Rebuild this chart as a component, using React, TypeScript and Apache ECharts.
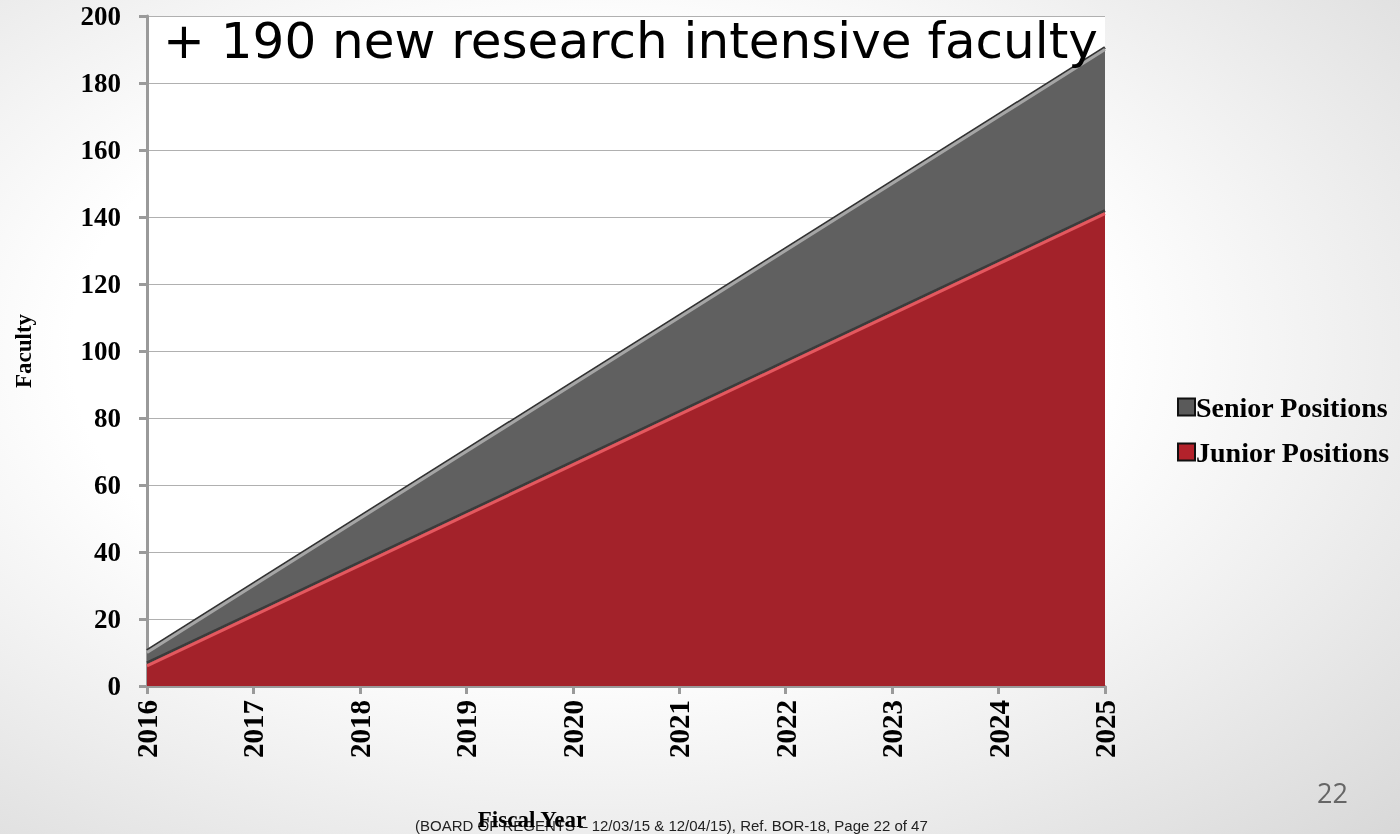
import React, { useEffect, useRef } from "react";
import * as echarts from "echarts";

const years = ["2016", "2017", "2018", "2019", "2020", "2021", "2022", "2023", "2024", "2025"];
const juniorPositions = [6, 21, 36, 51, 66, 81, 96, 111, 126, 141];
const seniorPositions = [4, 9, 14, 19, 24, 29, 34, 39, 44, 49];
const seriesNames = ["Senior Positions", "Junior Positions"];
const titleText = "+ 190 new research intensive faculty";
const footerText = "(BOARD OF REGENTS \u2013 12/03/15 & 12/04/15), Ref. BOR-18, Page 22 of 47";

const SERIF = "'Liberation Serif', 'Times New Roman', serif";

export default function App() {
  const ref = useRef<HTMLDivElement>(null);
  useEffect(() => {
    if (!ref.current) return;
    const chart = echarts.init(ref.current, null, { renderer: "svg" });
    chart.setOption({
      animation: false,
      backgroundColor: "transparent",
      grid: {
        left: 147,
        right: 295,
        top: 16,
        bottom: 148,
        show: true,
        backgroundColor: "#ffffff",
        borderWidth: 0,
      },
      legend: {
        orient: "vertical",
        left: 1172,
        top: 388,
        itemGap: 17,
        itemWidth: 17,
        itemHeight: 17,
        icon: "rect",
        textStyle: { fontFamily: SERIF, fontWeight: "bold", fontSize: 28, color: "#000", padding: [0, 0, 0, -4] },
        data: [
          { name: seriesNames[0], itemStyle: { color: "#5a5a5a", borderColor: "#111", borderWidth: 2 } },
          { name: seriesNames[1], itemStyle: { color: "#b3222b", borderColor: "#111", borderWidth: 2 } },
        ],
      },
      xAxis: {
        type: "category",
        data: years,
        boundaryGap: false,
        axisLine: { lineStyle: { color: "#9a9a9a", width: 3 } },
        axisTick: { show: true, length: 8, lineStyle: { color: "#9a9a9a", width: 3 } },
        axisLabel: {
          rotate: 90,
          margin: 14,
          fontFamily: SERIF,
          fontWeight: "bold",
          fontSize: 29,
          color: "#000",
        },
        splitLine: { show: false },
      },
      yAxis: {
        type: "value",
        min: 0,
        max: 200,
        interval: 20,
        name: "Faculty",
        nameLocation: "middle",
        nameRotate: 90,
        nameGap: 112,
        nameTextStyle: { fontFamily: SERIF, fontWeight: "bold", fontSize: 23, color: "#000" },
        axisLine: { show: true, lineStyle: { color: "#9a9a9a", width: 3 } },
        axisTick: { show: true, length: 8, lineStyle: { color: "#9a9a9a", width: 3 } },
        axisLabel: {
          margin: 26,
          fontFamily: SERIF,
          fontWeight: "bold",
          fontSize: 27,
          color: "#000",
        },
        splitLine: { show: true, lineStyle: { color: "#b0b0b0", width: 1 } },
      },
      series: [
        {
          name: seriesNames[1],
          type: "line",
          stack: "total",
          data: juniorPositions,
          symbol: "none",
          z: 3,
          itemStyle: { color: "#b3222b" },
          lineStyle: { color: "#e4585e", width: 3, shadowColor: "#3a3a3a", shadowOffsetY: -3, shadowBlur: 0 },
          areaStyle: { color: "#a3222a", opacity: 1 },
        },
        {
          name: seriesNames[0],
          type: "line",
          stack: "total",
          data: seniorPositions,
          symbol: "none",
          z: 2,
          itemStyle: { color: "#5a5a5a" },
          lineStyle: { color: "#a5a5a5", width: 3, shadowColor: "#333333", shadowOffsetY: -2, shadowBlur: 0 },
          areaStyle: { color: "#606060", opacity: 1 },
        },
      ],
      graphic: [
        {
          type: "text",
          left: 163,
          top: 16,
          z: 10,
          style: { text: titleText, fontFamily: "'DejaVu Sans', sans-serif", fontSize: 50, fill: "#000" },
        },
        {
          type: "text",
          left: 415,
          top: 818,
          z: 10,
          style: { text: footerText, fontFamily: "'Liberation Sans', Arial, sans-serif", fontSize: 15, fill: "#222" },
        },
        {
          type: "text",
          x: 532,
          y: 808,
          z: 11,
          style: {
            text: "Fiscal Year",
            fontFamily: SERIF,
            fontWeight: "bold",
            fontSize: 23,
            fill: "#000",
            align: "center",
            verticalAlign: "top",
          },
        },
        {
          type: "text",
          left: 1317,
          top: 779,
          z: 10,
          style: { text: "22", fontFamily: "'Open Sans', sans-serif", fontSize: 27, fill: "#666" },
        },
      ],
    });
    return () => chart.dispose();
  }, []);
  return (
    <div
      style={{
        position: "fixed",
        left: 0,
        top: 0,
        width: 1400,
        height: 834,
        background: "radial-gradient(ellipse at 42% 42%, #ffffff 45%, #d8d8d8 100%)",
      }}
    >
      <div ref={ref} style={{ width: 1400, height: 834 }} />
    </div>
  );
}
